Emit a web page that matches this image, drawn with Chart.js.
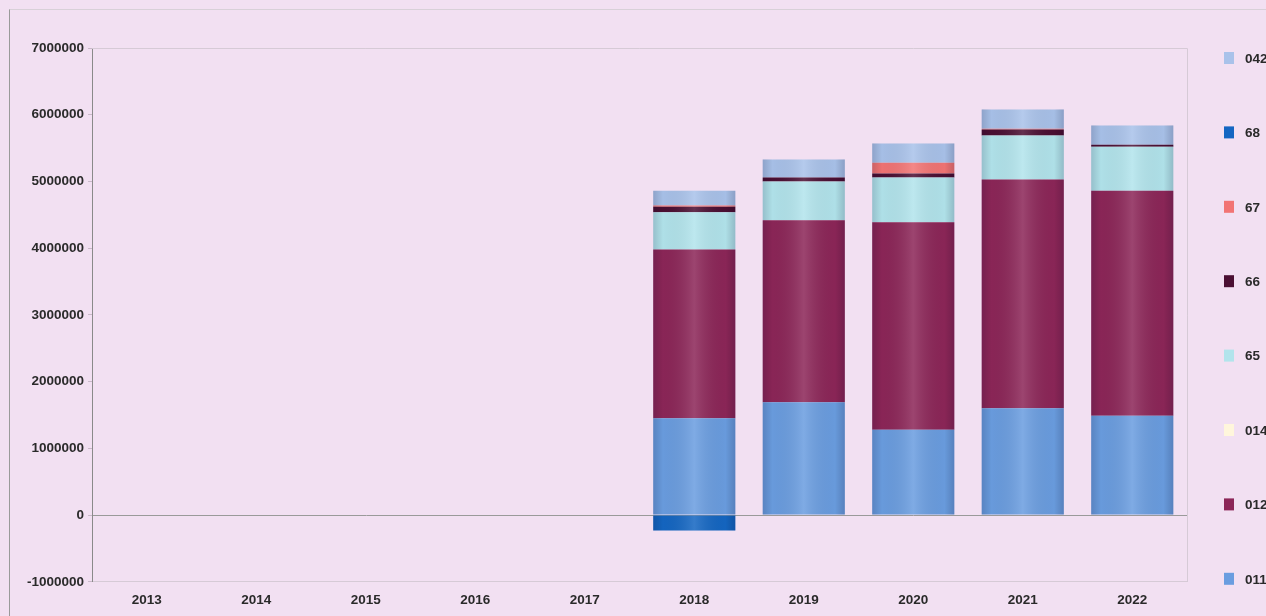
<!DOCTYPE html>
<html>
<head>
<meta charset="utf-8">
<script src="https://cdn.jsdelivr.net/npm/chart.js@4"></script>
<style>
  html, body { margin: 0; padding: 0; background: #f2e0f2; }
  #wrap { position: relative; width: 1266px; height: 616px; }
  #frame { position: absolute; left: 9px; top: 9px; width: 1270px; height: 620px;
           border-left: 1px solid #9a9a9a; border-top: 1px solid #d8d0d8; }
  canvas { position: absolute; left: 0; top: 0; }
</style>
</head>
<body>
<div id="wrap">
  <div id="frame"></div>
  <canvas id="c" width="1266" height="616"></canvas>
</div>
<script>
// Years on the category axis
const years = ['2013', '2014', '2015', '2016', '2017', '2018', '2019', '2020', '2021', '2022'];

// Stacked series, one array per account code (values per year)
const s011 = [0, 0, 0, 0, 0, 1450000, 1690000, 1280000, 1600000, 1490000];
const s012 = [0, 0, 0, 0, 0, 2530000, 2730000, 3110000, 3430000, 3370000];
const s014 = [0, 0, 0, 0, 0, 0, 0, 0, 0, 0];
const s65  = [0, 0, 0, 0, 0, 560000, 580000, 670000, 660000, 660000];
const s66  = [0, 0, 0, 0, 0, 80000, 60000, 60000, 90000, 30000];
const s67  = [0, 0, 0, 0, 0, 20000, 0, 160000, 10000, 0];
const s68  = [0, 0, 0, 0, 0, -230000, 0, 0, 0, 0];
const s042 = [0, 0, 0, 0, 0, 220000, 270000, 290000, 290000, 290000];

// Value axis range
const yMin = -1000000;
const yMax = 7000000;
const yStep = 1000000;

const series = [
  { label: '011', data: s011, color: '#6a9de0' },
  { label: '012', data: s012, color: '#8c2658' },
  { label: '014', data: s014, color: '#fff6dc' },
  { label: '65',  data: s65,  color: '#b2e4ec' },
  { label: '66',  data: s66,  color: '#4b0f33' },
  { label: '67',  data: s67,  color: '#f27474' },
  { label: '68',  data: s68,  color: '#1466c2' },
  { label: '042', data: s042, color: '#a9c2ea' }
];

const FAMILY = "'Liberation Sans', Arial, sans-serif";
const font = { family: FAMILY, size: 13.5, weight: 'bold' };

// Legend on the right, spread over the full height of the plot
const sideLegend = {
  id: 'sideLegend',
  afterDraw(chart) {
    const ctx = chart.ctx;
    const area = chart.chartArea;
    const items = chart.data.datasets.slice().reverse();
    const top = area.top + 10;
    const bottom = area.bottom - 3;
    const step = (bottom - top) / (items.length - 1);
    ctx.save();
    ctx.font = 'bold 13.5px ' + FAMILY;
    ctx.textBaseline = 'middle';
    items.forEach((ds, i) => {
      const y = top + i * step;
      ctx.fillStyle = ds.backgroundColor;
      ctx.fillRect(1224, y - 6, 10, 12);
      ctx.fillStyle = '#2a2a2a';
      ctx.fillText(ds.label, 1245, y + 1);
    });
    ctx.restore();
  }
};

// Light frame round the plot area
const plotFrame = {
  id: 'plotFrame',
  beforeDatasetsDraw(chart) {
    const { ctx, chartArea: a } = chart;
    ctx.save();
    ctx.strokeStyle = '#d6cad6';
    ctx.lineWidth = 1;
    ctx.beginPath();
    ctx.moveTo(a.left, a.top + 0.5);
    ctx.lineTo(a.right + 0.5, a.top + 0.5);
    ctx.lineTo(a.right + 0.5, a.bottom);
    ctx.stroke();
    ctx.restore();
  }
};

// Soft cylinder shading over each drawn bar segment
const barShade = {
  id: 'barShade',
  afterDatasetsDraw(chart) {
    const ctx = chart.ctx;
    ctx.save();
    chart.data.datasets.forEach((ds, di) => {
      const meta = chart.getDatasetMeta(di);
      meta.data.forEach(bar => {
        const p = bar.getProps(['x', 'y', 'base', 'width'], true);
        const h = Math.abs(p.base - p.y);
        if (h < 1) return;
        const left = p.x - p.width / 2;
        const g = ctx.createLinearGradient(left, 0, left + p.width, 0);
        g.addColorStop(0, 'rgba(0,0,40,0.16)');
        g.addColorStop(0.12, 'rgba(0,0,0,0.02)');
        g.addColorStop(0.5, 'rgba(255,255,255,0.14)');
        g.addColorStop(0.88, 'rgba(0,0,0,0.02)');
        g.addColorStop(1, 'rgba(0,0,40,0.18)');
        ctx.fillStyle = g;
        ctx.fillRect(left, Math.min(p.y, p.base), p.width, h);
      });
    });
    ctx.restore();
  }
};

new Chart(document.getElementById('c'), {
  type: 'bar',
  data: {
    labels: years,
    datasets: series.map(s => ({
      label: s.label,
      data: s.data,
      backgroundColor: s.color,
      borderWidth: 0,
      barPercentage: 0.75,
      categoryPercentage: 1.0
    }))
  },
  options: {
    responsive: false,
    animation: false,
    devicePixelRatio: 1,
    layout: { padding: { left: 23, right: 79, top: 48, bottom: 6 } },
    plugins: {
      legend: { display: false },
      tooltip: { enabled: false }
    },
    scales: {
      x: {
        stacked: true,
        grid: { display: false },
        border: { display: true, color: '#d6cad6' },
        ticks: { font: font, color: '#2a2a2a', padding: 2 }
      },
      y: {
        stacked: true,
        min: yMin,
        max: yMax,
        ticks: {
          stepSize: yStep,
          font: font,
          color: '#2a2a2a',
          padding: 4,
          callback: v => String(v)
        },
        border: { display: true, color: '#8a8a8a' },
        grid: {
          drawOnChartArea: true,
          tickLength: 4,
          tickColor: '#c8b8c8',
          color: ctx => (ctx.tick && ctx.tick.value === 0) ? '#9a9a9a' : 'rgba(0,0,0,0)'
        }
      }
    }
  },
  plugins: [plotFrame, barShade, sideLegend]
});
</script>
</body>
</html>
